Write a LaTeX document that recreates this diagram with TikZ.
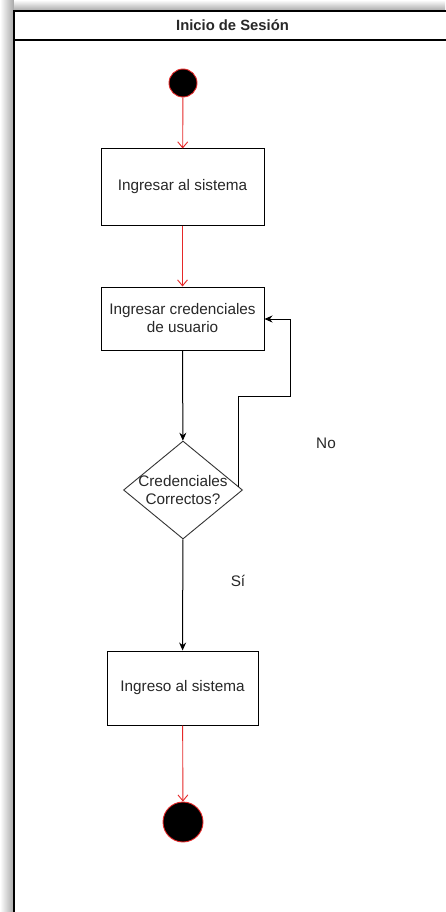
\documentclass[tikz,border=0pt]{standalone}
\usepackage{fontspec}
\setmainfont{Liberation Sans}
\usetikzlibrary{arrows.meta,shapes.geometric}
\definecolor{flowred}{RGB}{230,40,40}
\definecolor{txtgray}{RGB}{40,40,40}
\begin{document}
\begin{tikzpicture}[x=1pt,y=-1pt,
  actbox/.style={draw=black,line width=1pt,fill=white,minimum width=163pt,text=txtgray,font=\fontsize{15.3}{18}\selectfont,align=center,inner sep=0pt},
  decbox/.style={diamond,draw=black!80,line width=0.9pt,fill=white,minimum width=119pt,minimum height=98pt,inner sep=0pt},
  dotnode/.style={circle,fill=black,draw=flowred,line width=0.9pt,inner sep=0pt},
  redflow/.style={draw=flowred,line width=0.9pt,-{Straight Barb[length=6pt,width=10pt]}},
  blackflow/.style={draw=black,line width=1pt,-{Stealth[length=8pt,width=7pt]}},
  lbl/.style={text=txtgray,font=\fontsize{15.3}{18}\selectfont,align=center}]
\useasboundingbox (0,0) rectangle (445,912);
% window shadow along the left and top
\shade[left color=white,right color=black!35] (0,0) rectangle (14,912);
\shade[top color=white,bottom color=black!35] (14,0) rectangle (445,11);
\fill[white] (14,11) rectangle (446,913);
% swimlane frame and title
\draw[line width=1.1pt] (14,913) -- (14,11) -- (446,11);
\draw[line width=1.1pt] (14,40) -- (446,40);
\node[font=\bfseries\fontsize{14.8}{17}\selectfont,text=txtgray] (title) at (232.5,25.5) {Inicio de Sesión};
% activity nodes
\node[dotnode,minimum size=28pt] (start) at (183,83) {};
\node[actbox,minimum height=76pt] (login) at (182.5,187) {Ingresar al sistema};
\node[actbox,minimum height=63pt] (creds) at (182.5,318.5) {Ingresar credenciales\\de usuario};
\node[decbox] (check) at (183,490) {};
\node[lbl] (checktxt) at (check.center) {Credenciales\\Correctos?};
\node[actbox,minimum width=151pt,minimum height=74pt] (enter) at (182.5,688) {Ingreso al sistema};
\node[dotnode,minimum size=40pt] (stop) at (183,822) {};
% labels
\node[lbl] (nolbl) at (326,443) {No};
\node[lbl] (silbl) at (238,581) {Sí};
% connectors
\draw[redflow] (start) -- (login);
\draw[redflow] (login) -- (creds);
\draw[blackflow] (creds) -- (check);
\draw[blackflow] (check) -- (enter);
\draw[redflow] (enter) -- (stop);
\coordinate (loopout) at (238,487);
\draw[blackflow] (loopout) -- (238,396) -- (290,396) -- (290,319) -- (creds.east |- 0,319);
\end{tikzpicture}
\end{document}
